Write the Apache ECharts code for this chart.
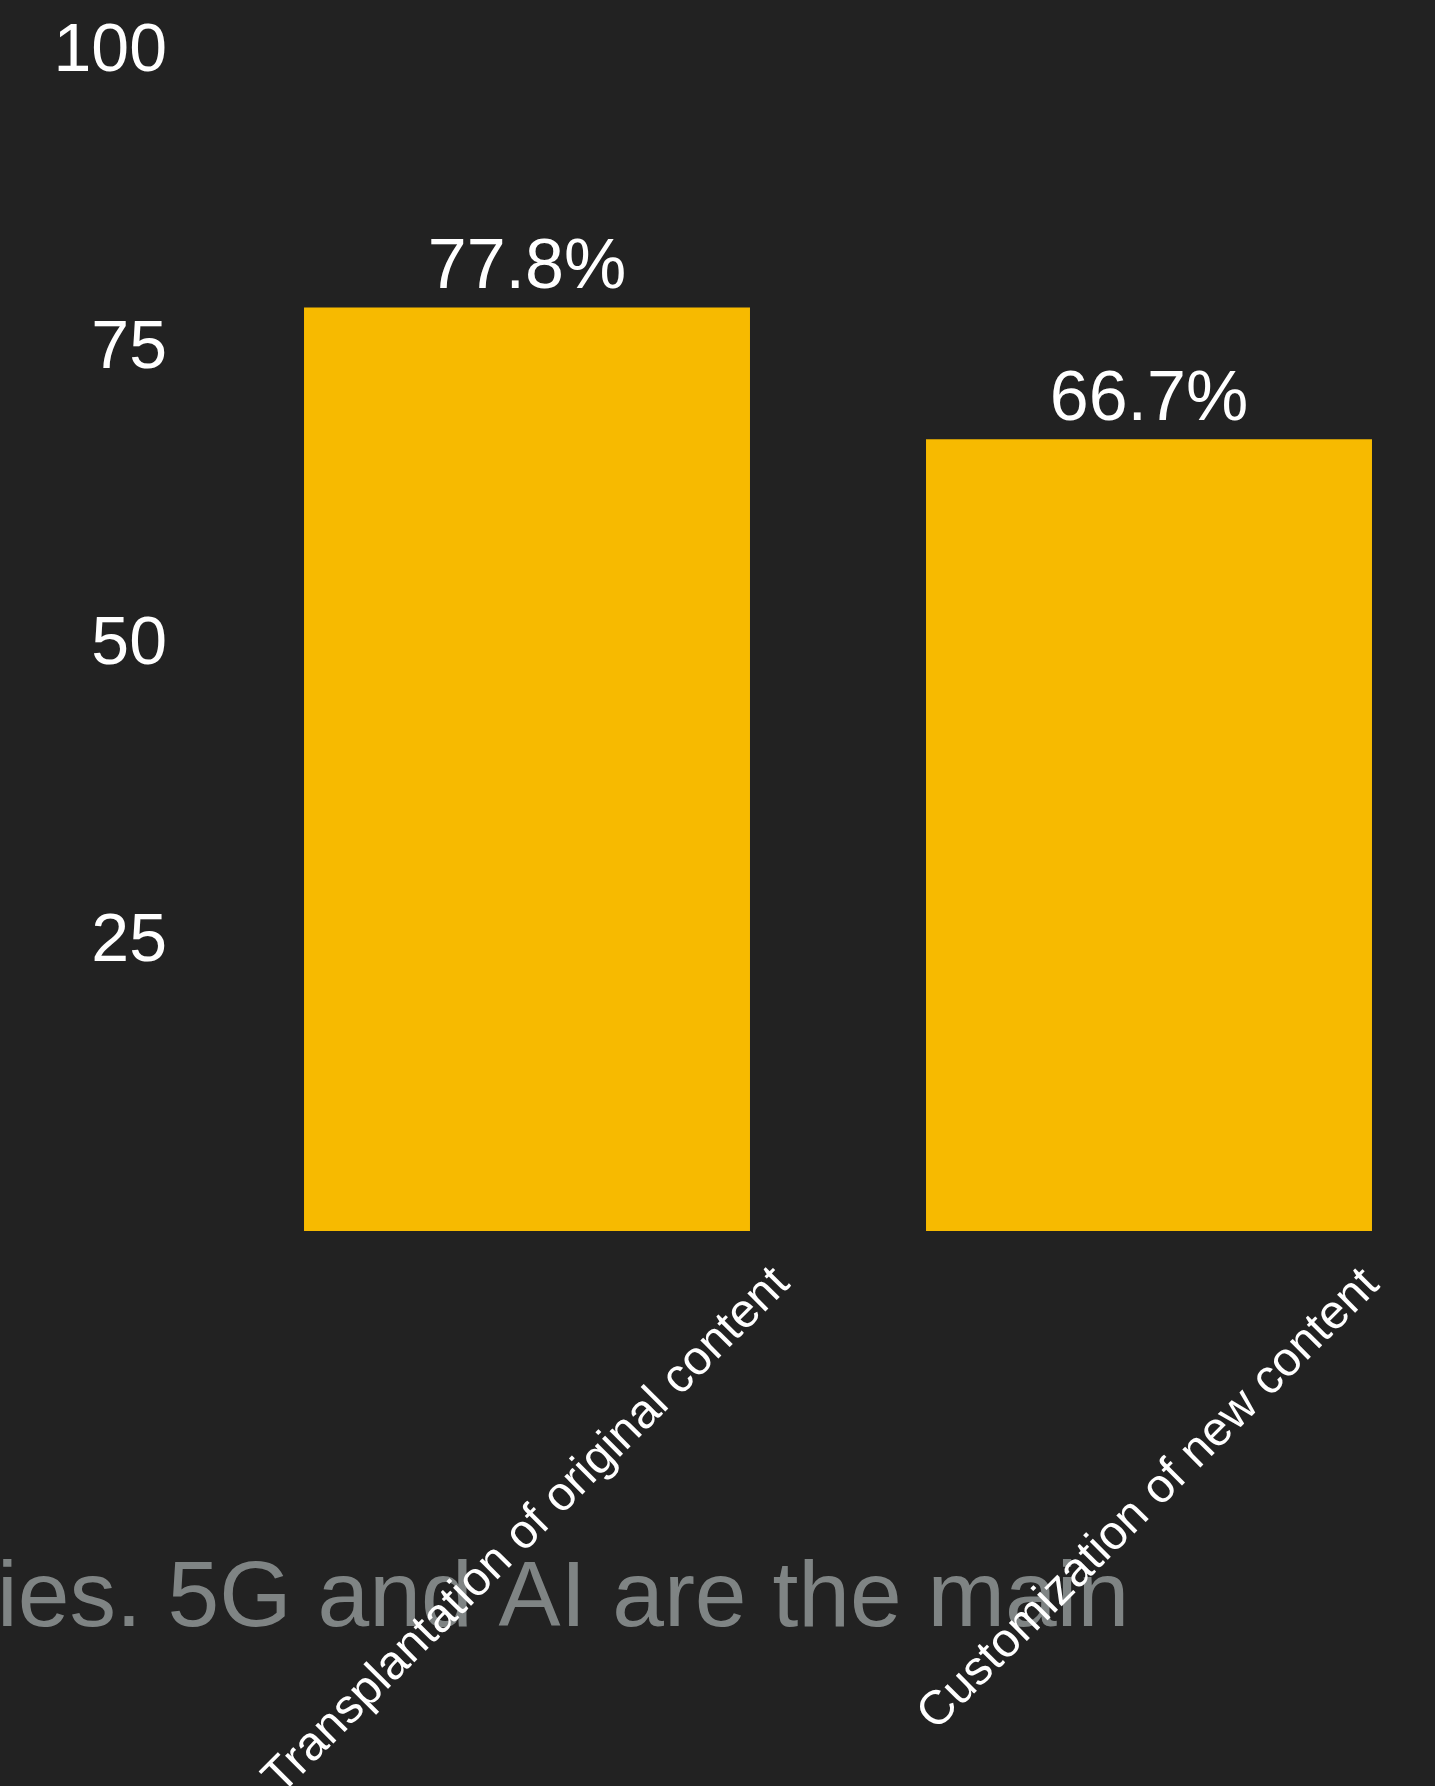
<!DOCTYPE html>
<html>
<head>
<meta charset="utf-8">
<script src="https://cdn.jsdelivr.net/npm/echarts@6/dist/echarts.min.js"></script>
<style>
html,body{margin:0;padding:0;background:#222222;overflow:hidden;}
#chart{width:1435px;height:1786px;}
</style>
</head>
<body>
<div id="chart"></div>
<script>
// ---- data ----
const categories = ['Transplantation of original content', 'Customization of new content'];
const values = [77.8, 66.7];
const yTicks = { min: 0, max: 100, interval: 25 };
const backgroundText = 'ies. 5G and AI are the main';

// ---- chart ----
const FONT = '"Liberation Sans", Arial, Helvetica, sans-serif';
const chart = echarts.init(document.getElementById('chart'), null, { renderer: 'canvas' });
chart.setOption({
  backgroundColor: '#222222',
  animation: false,
  graphic: [{
    type: 'text',
    z: -10,
    x: -3,
    y: 1600,
    style: {
      text: backgroundText,
      font: '93px ' + FONT,
      fill: '#7f8484',
      align: 'left',
      verticalAlign: 'middle'
    }
  }],
  grid: { left: 216, right: -25, top: 44, bottom: 555, containLabel: false, outerBoundsMode: 'none' },
  xAxis: {
    type: 'category',
    data: categories,
    axisLine: { show: false },
    axisTick: { show: false },
    axisLabel: {
      interval: 0,
      rotate: 45,
      align: 'center',
      verticalAlign: 'middle',
      margin: 300,
      color: '#ffffff',
      fontSize: 48,
      fontFamily: FONT,
      formatter: function (v, i) { return i === 0 ? '{a|' + v + '}' : '{b|' + v + '}'; },
      rich: {
        a: { color: '#ffffff', fontSize: 48, fontFamily: FONT },
        b: { color: '#ffffff', fontSize: 48, fontFamily: FONT, padding: [0, 0, 44, 44] }
      }
    }
  },
  yAxis: {
    type: 'value',
    min: yTicks.min,
    max: yTicks.max,
    interval: yTicks.interval,
    axisLine: { show: false },
    axisTick: { show: false },
    splitLine: { show: false },
    axisLabel: {
      showMinLabel: false,
      margin: 49,
      color: '#ffffff',
      fontSize: 68,
      fontFamily: FONT,
      formatter: function (v) { return '{v|' + v + '}'; },
      rich: {
        v: { color: '#ffffff', fontSize: 68, fontFamily: FONT, padding: [16, 0, 0, 0] }
      }
    }
  },
  series: [{
    type: 'bar',
    data: values,
    barCategoryGap: '28.3%',
    itemStyle: { color: '#f7ba00' },
    label: {
      show: true,
      position: 'top',
      distance: 4,
      color: '#ffffff',
      fontSize: 70,
      fontFamily: FONT,
      formatter: '{c}%'
    }
  }]
});
</script>
</body>
</html>
